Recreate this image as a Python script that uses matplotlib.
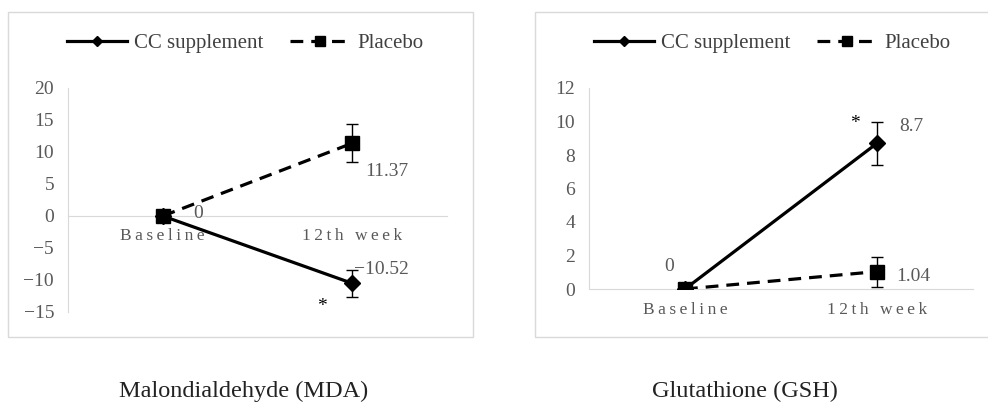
import matplotlib
matplotlib.use('Agg')
import matplotlib.pyplot as plt
from matplotlib.patches import Rectangle
from matplotlib.lines import Line2D

# data
categories = ['Baseline', '12th week']
mda_cc = [0, -10.52]
mda_cc_err = [0, 2.1]
mda_pl = [0, 11.37]
mda_pl_err = [0, 3.0]
gsh_cc = [0, 8.7]
gsh_cc_err = [0, 1.3]
gsh_pl = [0, 1.04]
gsh_pl_err = [0, 0.9]

plt.rcParams['font.family'] = ['Liberation Serif', 'DejaVu Serif']
grey = '#595959'
gridc = '#d9d9d9'

fig = plt.figure(figsize=(9.88, 4.03), dpi=100)

# panel frames
for x0, w in [(8, 465), (535, 460)]:
    fig.patches.append(Rectangle((x0 / 988, 1 - 337 / 403), w / 988, 325 / 403,
                                 transform=fig.transFigure, fill=False,
                                 ec=gridc, lw=1))


def spaced(s):
    # excel-like letter spacing on category labels
    return '\u2009'.join(s)


def panel(rect, cc, cc_err, pl, pl_err, ylim, yticks, legend_x, labels, star):
    ax = fig.add_axes(rect)
    x = list(range(len(categories)))
    ax.errorbar(x, pl, yerr=pl_err, color='black', ls='--', lw=2.3,
                marker='s', ms=10, capsize=4, elinewidth=1, capthick=1,
                dashes=(4, 2.5), zorder=3)
    ax.errorbar(x, cc, yerr=cc_err, color='black', ls='-', lw=2.3,
                marker='D', ms=8.5, capsize=4, elinewidth=1, capthick=1,
                zorder=4)
    ax.set_xlim(-0.5, 1.5)
    ax.set_ylim(*ylim)
    ax.set_yticks(yticks)
    ax.set_xticks(x)
    ax.set_xticklabels([spaced(c) for c in categories])
    for s in ['top', 'right']:
        ax.spines[s].set_visible(False)
    ax.spines['bottom'].set_position(('data', 0))
    ax.spines['bottom'].set_color(gridc)
    ax.spines['left'].set_color(gridc)
    ax.tick_params(length=0, colors=grey, labelsize=14)
    ax.tick_params(axis='x', pad=9, labelsize=12.5)
    ax.tick_params(axis='y', pad=10)
    ax.patch.set_alpha(0)

    for (xi, yi, txt, dx, dy) in labels:
        ax.annotate(txt, (xi, yi), xytext=(dx, dy), textcoords='offset points',
                    color=grey, fontsize=14, ha='left', va='center')
    ax.annotate('*', (1, star[0]), xytext=(star[1], star[2]),
                textcoords='offset points', fontsize=14, ha='center',
                va='center', color='black')

    handles = [Line2D([], [], color='black', lw=2.3, marker='D', ms=5),
               Line2D([], [], color='black', lw=2.3, ls='--', dashes=(4, 2.5),
                      marker='s', ms=7)]
    ax.legend(handles, ['CC supplement', 'Placebo'], loc='center',
              bbox_to_anchor=(legend_x, 1 - 43 / 403),
              bbox_transform=fig.transFigure, ncol=2, frameon=False,
              fontsize=15, handlelength=2.9, columnspacing=1.25,
              handletextpad=0.33, labelcolor='#404040')
    return ax


panel([68 / 988, 1 - 312 / 403, 379 / 988, 224 / 403],
      mda_cc, mda_cc_err, mda_pl, mda_pl_err,
      (-15, 20), list(range(-15, 21, 5)), 245 / 988,
      [(0, 0, '0', 22, 1.5), (1, mda_pl[1], '11.37', 9.5, -20),
       (1, mda_cc[1], '\u221210.52', 1, 10)],
      (mda_cc[1], -21.5, -16.5))

panel([589 / 988, 1 - 289 / 403, 384 / 988, 201 / 403],
      gsh_cc, gsh_cc_err, gsh_pl, gsh_pl_err,
      (0, 12), list(range(0, 13, 2)), 772 / 988,
      [(0, 0, '0', -15, 16.5), (1, gsh_cc[1], '8.7', 16, 12),
       (1, gsh_pl[1], '1.04', 14, -3.6)],
      (gsh_cc[1], -16, 14.5))

fig.text(244 / 988, 1 - 397 / 403, 'Malondialdehyde (MDA)', ha='center',
         va='baseline', fontsize=17.5, color='#222222')
fig.text(745 / 988, 1 - 397 / 403, 'Glutathione (GSH)', ha='center',
         va='baseline', fontsize=17.5, color='#222222')

fig.savefig('out.png', dpi=100)
